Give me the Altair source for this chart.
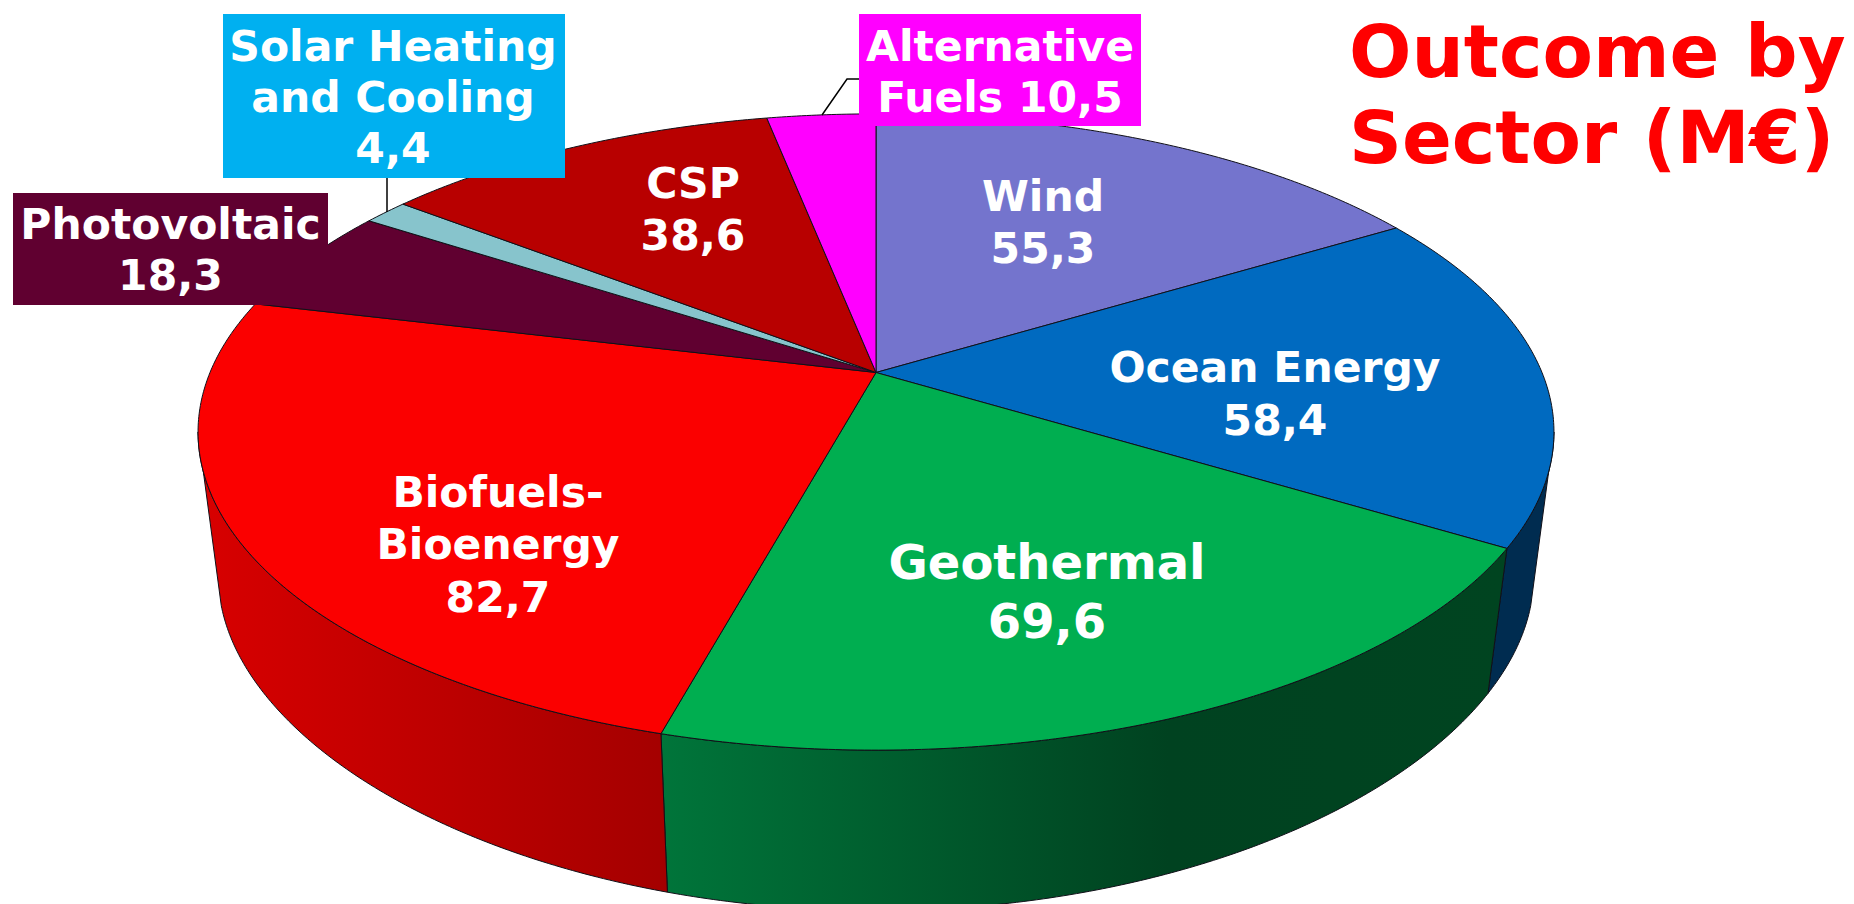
import math
import altair as alt
import pandas as pd

# ---- chart values ----
sectors = ["Wind", "Ocean Energy", "Geothermal", "Biofuels-Bioenergy", "Photovoltaic",
           "Solar Heating and Cooling", "CSP", "Alternative Fuels"]
values = [55.3, 58.4, 69.6, 82.7, 18.3, 4.4, 38.6, 10.5]
top_colors = ["#7474CD", "#006AC0", "#00AE50", "#FB0000", "#600030", "#87C4CC", "#B80000", "#FF00FF"]

# ---- layout (image pixels) ----
RIGHT, H = 1846, 904
CX, CY, A, B, K = 876, 372.5, 666, 307, 0.187
BOT_A, BOT_CY, BOT_B, BOT_K = 646, 518.6, 294, 0.25
VIS_FROM, VIS_TO = 100.8, 259.2
BOT_FROM, BOT_TO = 106.0, 254.0

xs = alt.Scale(domain=[8, RIGHT], range=[0, RIGHT - 8])
ys = alt.Scale(domain=[H, 8], range=[H - 8, 0])
X = alt.X("x:Q", scale=xs, axis=None)
Y = alt.Y("y:Q", scale=ys, axis=None)


def top(t):
    r = math.radians(t)
    u, v = math.sin(r), math.cos(r)
    w = 1 + K * v
    return CX + A * u / w, CY - B * v / w


def bottom(t):
    r = math.radians(t)
    u, v = math.sin(r), math.cos(r)
    return CX + BOT_A * u / (1 + K * v), BOT_CY - BOT_B * v / (1 + BOT_K * v)


def steps(a, b):
    n = max(2, int(abs(b - a) * 2))
    return [a + (b - a) * i / n for i in range(n + 1)]


def poly(points, fill, stroke="#101018", sw=1.0):
    pts = list(points) + [points[0]]
    df = pd.DataFrame({"x": [p[0] for p in pts], "y": [p[1] for p in pts], "i": range(len(pts))})
    return alt.Chart(df).mark_line(fill=fill, stroke=stroke, strokeWidth=sw, clip=True,
                                   strokeJoin="round").encode(x=X, y=Y, order=alt.Order("i:Q"))


def gradient(stops):
    return alt.Gradient(gradient="linear", x1=0, y1=0.5, x2=1, y2=0.5,
                        stops=[alt.GradientStop(offset=o, color=c) for o, c in stops])


total = sum(values)
edges = [0.0]
for val in values:
    edges.append(edges[-1] + val / total * 360)

wall_fill = {
    "Ocean Energy": "#002C50",
    "Geothermal": gradient([(0, "#00753A"), (0.6, "#004220"), (1, "#004420")]),
    "Biofuels-Bioenergy": gradient([(0, "#D80000"), (0.5, "#BE0000"), (1, "#A40000")]),
}

layers = []
for i, name in enumerate(sectors):
    if name in wall_fill:
        a, b = max(edges[i], VIS_FROM), min(edges[i + 1], VIS_TO)
        a2, b2 = max(edges[i], BOT_FROM), min(edges[i + 1], BOT_TO)
        pts = [top(t) for t in steps(a, b)] + [bottom(t) for t in steps(b2, a2)]
        layers.append(poly(pts, wall_fill[name]))
for i, name in enumerate(sectors):
    pts = [(CX, CY)] + [top(t) for t in steps(edges[i], edges[i + 1])]
    layers.append(poly(pts, top_colors[i]))

# leader lines
leaders = pd.DataFrame({
    "x": [387, 387, 822, 847, 859],
    "y": [178, 212, 115, 79, 79],
    "g": ["s", "s", "a", "a", "a"],
    "i": [0, 1, 0, 1, 2],
})
layers.append(alt.Chart(leaders).mark_line(color="black", strokeWidth=1.5).encode(
    x=X, y=Y, detail="g:N", order=alt.Order("i:Q")))

# label boxes
boxes = pd.DataFrame({
    "x": [223, 13, 859], "x2": [565, 328, 1141],
    "y": [14, 193, 14], "y2": [178, 305, 126],
    "c": ["#00B0F0", "#600030", "#FF00FF"],
})
layers.append(alt.Chart(boxes).mark_rect().encode(
    x=X, x2="x2:Q", y=Y, y2="y2:Q", color=alt.Color("c:N", scale=None, legend=None)))


def fmt(v):
    return f"{v:.1f}".replace(".", ",")


V = dict(zip(sectors, values))
labels = pd.DataFrame([
    ("Wind", 1043, 211, 42.5), (fmt(V["Wind"]), 1043, 263, 42.5),
    ("Ocean Energy", 1275, 382, 42.5), (fmt(V["Ocean Energy"]), 1275, 435, 42.5),
    ("Geothermal", 1047, 579, 48), (fmt(V["Geothermal"]), 1047, 638, 48),
    ("Biofuels-", 498, 507, 42.5), ("Bioenergy", 498, 559, 42.5), (fmt(V["Biofuels-Bioenergy"]), 498, 612, 42.5),
    ("Photovoltaic", 170.5, 239, 42.5), (fmt(V["Photovoltaic"]), 170.5, 290, 42.5),
    ("Solar Heating", 393, 61, 42.5), ("and Cooling", 393, 112, 42.5), (fmt(V["Solar Heating and Cooling"]), 393, 163, 42.5),
    ("CSP", 693, 198, 42.5), (fmt(V["CSP"]), 693, 250, 42.5),
    ("Alternative", 1000, 61, 42.5), ("Fuels " + fmt(V["Alternative Fuels"]), 1000, 112, 42.5),
], columns=["t", "x", "y", "s"])
layers.append(alt.Chart(labels).mark_text(
    font="DejaVu Sans", fontWeight="bold", color="white", align="center", baseline="alphabetic"
).encode(x=X, y=Y, text="t:N", size=alt.Size("s:Q", scale=None, legend=None)))

title = pd.DataFrame({"t": ["Outcome by", "Sector (M€)"], "x": [1349, 1349], "y": [77, 163]})
layers.append(alt.Chart(title).mark_text(
    font="DejaVu Sans", fontWeight="bold", color="#FF0000", align="left", baseline="alphabetic", fontSize=73.5
).encode(x=X, y=Y, text="t:N"))

chart = alt.layer(*layers).properties(
    width=RIGHT - 8, height=H - 8, padding=0, background="white",
    autosize=alt.AutoSizeParams(type="none"),
).configure_view(stroke=None)

chart.save("out.html", embed_options={"renderer": "svg", "actions": False})
